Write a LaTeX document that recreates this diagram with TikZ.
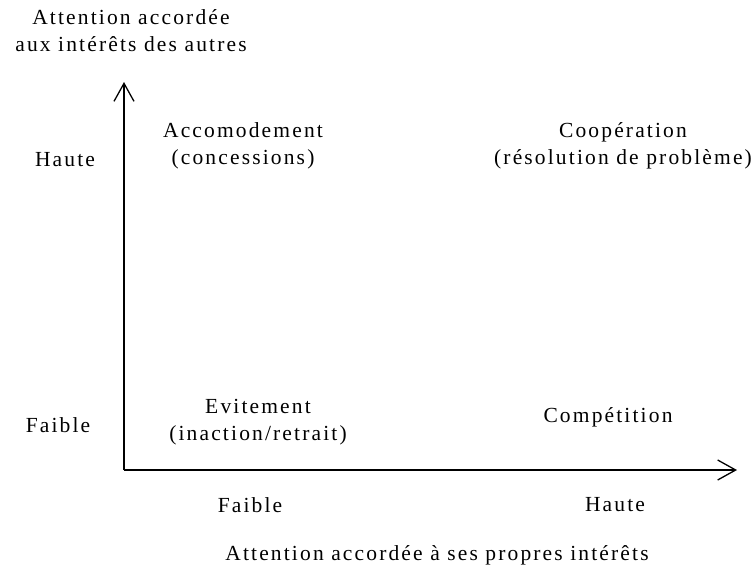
\documentclass[tikz,border=0pt]{standalone}
\usepackage{fontspec}
\setmainfont{Liberation Serif}[LetterSpace=10]
\usetikzlibrary{arrows.meta}
\begin{document}
\begin{tikzpicture}[x=1pt,y=-1pt,
  lbl/.style={font=\fontsize{21.5}{27}\selectfont, align=center, inner sep=0pt},
  axis/.style={line width=1.6pt, -{Straight Barb[length=18pt,width=20pt,line width=1.3pt]}}]
\useasboundingbox (0,0) rectangle (753,568);
\coordinate (O) at (124,470);
\coordinate (Ytip) at (124,82);
\coordinate (Xtip) at (737,470);
\draw[axis] (O) -- (Ytip);
\draw[axis] (O) -- (Xtip);
\node[lbl] (ylab) at (131,31) {Attention accordée\\aux intérêts des autres};
\node[lbl] (yhigh) at (65,160) {Haute};
\node[lbl] (ylow) at (58,425) {Faible};
\node[lbl] (acc) at (243,146) {Accomodement\\(concessions)};
\node[lbl] (coop) at (623,146) {Coopération\\(résolution de problème)};
\node[lbl] (evit) at (258,422) {Evitement\\(inaction/retrait)};
\node[lbl] (comp) at (608,417) {Compétition};
\node[lbl] (xlow) at (250,505) {Faible};
\node[lbl] (xhigh) at (615,505) {Haute};
\node[lbl] (xlab) at (437,555) {Attention accordée à ses propres intérêts};
\end{tikzpicture}
\end{document}
